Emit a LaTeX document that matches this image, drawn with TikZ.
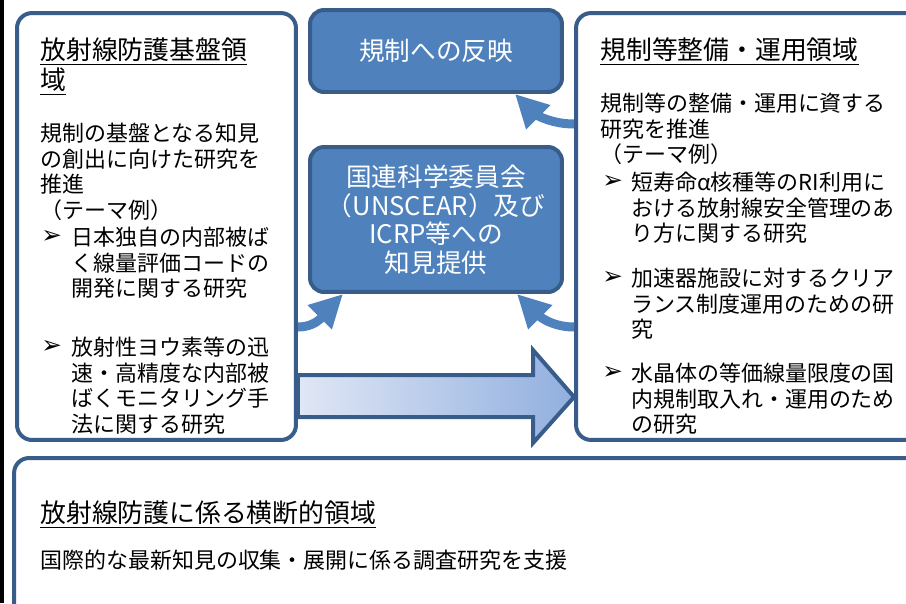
\documentclass[tikz,border=0pt]{standalone}
\usepackage{fontspec}
\setmainfont{Noto Sans CJK JP}
\newfontfamily\symfont{DejaVu Sans}
\usepackage{tikz}
\usetikzlibrary{arrows.meta}
\definecolor{boxline}{HTML}{385D8A}
\definecolor{boxfill}{HTML}{4F81BD}
\definecolor{shadel}{HTML}{E0E7F5}
\definecolor{shader}{HTML}{91AFDF}
\tikzset{
	areabox/.style={draw=boxline, line width=0.08cm, rounded corners=0.3cm, fill=white},
	bluebox/.style={draw=boxline, line width=0.08cm, rounded corners=0.28cm, fill=boxfill, text=white, align=center, font=\fontsize{14.6pt}{16.2pt}\selectfont},
	bendarrow/.style={draw=boxfill, line width=0.18cm, -{Triangle[length=0.66cm,width=0.64cm]}},
	bigarrow/.style={draw=boxline, line width=0.08cm, left color=shadel, right color=shader},
	titletext/.style={anchor=north west, inner sep=0pt, align=left, font=\fontsize{14.7pt}{17pt}\selectfont},
	bodytext/.style={anchor=north west, inner sep=0pt, align=left, font=\fontsize{12.5pt}{14.7pt}\selectfont},
	bulletmark/.style={anchor=west, inner sep=0pt, font=\symfont\fontsize{14pt}{16pt}\selectfont}
}

\begin{document}
\begin{tikzpicture}[x=0.02cm, y=-0.02cm]
			%%%%% START %%%%%
			\useasboundingbox (0, 0) rectangle (906, 603);
			\clip (0, 0) rectangle (906, 603);
			
			\draw[line width=0.08cm] (2, 0) -- (2, 603);
			
			% areas
			\node[areabox, minimum width=5.58cm, minimum height=8.54cm] (lbox) at (156.5, 226.5) {};
			\node[areabox, minimum width=7.2cm, minimum height=8.54cm] (rbox) at (756, 226.5) {};
			\node[areabox, minimum width=18.34cm, minimum height=3.48cm] (bbox) at (472.5, 545) {};
			
			\node[bluebox, minimum width=5.04cm, minimum height=1.64cm] (top) at (436, 51) {規制への反映};
			\node[bluebox, minimum width=5.04cm, minimum height=2.9cm] (mid) at (436, 219.5) {国連科学委員会\\（UNSCEAR）及び\\ICRP等への\\知見提供};
			
			% arrows
			\draw[bigarrow] (lbox.east |- 0, 375) -- (533, 375) -- (533, 350) -- (rbox.west |- 0, 397) -- (533, 443) -- (533, 417) -- (lbox.east |- 0, 417) -- cycle;
			
			\draw[bendarrow] (rbox.west |- 0, 124) to[out=180, in=-45] (515, 0 |- top.south);
			\draw[bendarrow] (lbox.east |- 0, 327) to[out=0, in=225] (343, 0 |- mid.south);
			\draw[bendarrow] (rbox.west |- 0, 327) to[out=180, in=-45] (517, 0 |- mid.south);
			
			% left area
			\node[titletext] (ltitle) at (40, 37.5) {\underline{放射線防護基盤領}\\\underline{域}};
			\node[bodytext] (lbody) at (40, 122.4) {規制の基盤となる知見\\の創出に向けた研究を\\推進\\（テーマ例）};
			\node[bulletmark] (lmarka) at (41, 237) {➢};
			\node[bodytext] (litema) at (71, 226.4) {日本独自の内部被ば\\く線量評価コードの\\開発に関する研究};
			\node[bulletmark] (lmarkb) at (41, 347) {➢};
			\node[bodytext] (litemb) at (71, 336.4) {放射性ヨウ素等の迅\\速・高精度な内部被\\ばくモニタリング手\\法に関する研究};
			
			% right area
			\node[titletext] (rtitle) at (600, 37.5) {\underline{規制等整備・運用領域}};
			\node[bodytext] (rbody) at (600, 92.4) {規制等の整備・運用に資する\\研究を推進\\（テーマ例）};
			\node[bulletmark] (rmarka) at (602, 182) {➢};
			\node[bodytext] (ritema) at (631, 171.4) {短寿命α核種等のRI利用に\\おける放射線安全管理のあ\\り方に関する研究};
			\node[bulletmark] (rmarkb) at (602, 278) {➢};
			\node[bodytext] (ritemb) at (631, 267.4) {加速器施設に対するクリア\\ランス制度運用のための研\\究};
			\node[bulletmark] (rmarkc) at (602, 373) {➢};
			\node[bodytext] (ritemc) at (631, 362.4) {水晶体の等価線量限度の国\\内規制取入れ・運用のため\\の研究};
			
			% bottom area
			\node[titletext] (btitle) at (40, 500.5) {\underline{放射線防護に係る横断的領域}};
			\node[bodytext] (bbody) at (40, 549.4) {国際的な最新知見の収集・展開に係る調査研究を支援};
			
			%%%%% END %%%%%
\end{tikzpicture}
\end{document}
